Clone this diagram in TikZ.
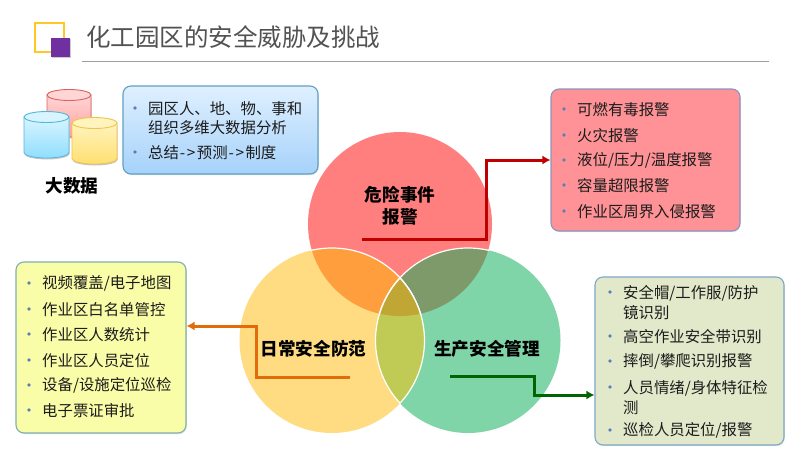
\documentclass[tikz,border=0pt]{standalone}
\usepackage{fontspec}
\setmainfont{Noto Sans CJK SC}
\usetikzlibrary{shadows,arrows.meta}
\definecolor{cRed}{HTML}{FF7F7F}
\definecolor{cYel}{HTML}{FFDC82}
\definecolor{cGrn}{HTML}{80D5A8}
\definecolor{cRY}{HTML}{FF9E3C}
\definecolor{cRG}{HTML}{7F9A6A}
\definecolor{cYG}{HTML}{C0CB55}
\definecolor{cAll}{HTML}{BFA635}
\definecolor{cBul}{HTML}{5B80B8}
\definecolor{cTxt}{HTML}{1C1C1C}
\definecolor{cPur}{HTML}{7030A0}
\definecolor{cGold}{HTML}{FFC826}
\definecolor{cBlueTop}{HTML}{DFF0FF}
\definecolor{cBlueBot}{HTML}{A6D2FA}
\tikzset{
  x=1pt,y=-1pt,
  panel/.style={draw,line width=1.1pt,rounded corners=8pt,inner sep=0pt,
     drop shadow={opacity=.22,shadow xshift=.8pt,shadow yshift=-1.2pt}},
  item/.style={anchor=west,inner sep=0pt,yshift=-.4pt,text=cTxt,font=\fontsize{15.4}{19.5}\selectfont,align=left},
  dotmark/.style={circle,fill=cBul,draw=none,inner sep=0pt,minimum size=3.6pt},
  biglabel/.style={inner sep=0pt,yshift=-.7pt,text=black,font=\fontsize{17.6}{22}\selectfont\bfseries,align=center},
  wire/.style={line width=3pt,-{Latex[length=8pt,width=9pt]}},
}
\begin{document}
\begin{tikzpicture}
\useasboundingbox[fill=white] (0,0) rectangle (800,450);
% header
\coordinate (ruleL) at (82,61);
\coordinate (ruleR) at (769,61);
\draw[color=black!38,line width=1pt] (ruleL) -- (ruleR);
\draw[color=cGold,line width=2pt] (34.5,22.5) rectangle (63.5,51.5);
\fill[color=black,opacity=.2] (52,39) rectangle (71,58);
\fill[cPur] (51,38) rectangle (70,57);
\node[anchor=west,inner sep=0pt,text=black!68,font=\fontsize{24.5}{28}\selectfont] (title) at (86,37) {化工园区的安全威胁及挑战};
% cylinders
\foreach \xl/\xr/\yt/\yb/\ca/\cb/\ce in {
  47/91/95/137/FFD6D6/FF9C9C/E06060,
  24/69/117/158/D8F5FF/90DEFF/55B5DC,
  72/117/123/164/FFF4BE/FFDF70/EFC548}{
  \definecolor{cyA}{HTML}{\ca}\definecolor{cyB}{HTML}{\cb}\definecolor{cyE}{HTML}{\ce}
  \pgfmathsetmacro{\rx}{(\xr-\xl)/2}
  \fill[black!22] (\xl+.5,\yt+2) -- (\xl+.5,\yb-4) arc[start angle=180,end angle=0,x radius=\rx,y radius=5.5] -- (\xr+.5,\yt+2) -- cycle;
  \path[top color=cyA,bottom color=cyB,draw=cyE,line width=.8pt] (\xl,\yt) -- (\xl,\yb-5.5) arc[start angle=180,end angle=0,x radius=\rx,y radius=5.5] -- (\xr,\yt) -- cycle;
  \path[fill=cyA,draw=cyE,line width=.9pt] (\xl+\rx,\yt) ellipse[x radius=\rx,y radius=5.5];
}
\node[biglabel] (bigdata) at (72,185) {大数据};
% venn
\fill[cRed] (400,224) circle[radius=92];
\fill[cYel] (332,340.5) circle[radius=92.5];
\fill[cGrn] (468,340.5) circle[radius=92.5];
\begin{scope}
 \clip (400,224) circle[radius=92];
 \fill[cRY] (332,340.5) circle[radius=92.5];
 \fill[cRG] (468,340.5) circle[radius=92.5];
\end{scope}
\begin{scope}
 \clip (332,340.5) circle[radius=92.5];
 \fill[cYG] (468,340.5) circle[radius=92.5];
 \clip (468,340.5) circle[radius=92.5];
 \fill[cAll] (400,224) circle[radius=92];
\end{scope}
\begin{scope}
 \clip (400,224) circle[radius=93];
 \draw[white,line width=1.2pt] (332,340.5) circle[radius=92.5];
 \draw[white,line width=1.2pt] (468,340.5) circle[radius=92.5];
\end{scope}
\begin{scope}
 \clip (332,340.5) circle[radius=92.5];
 \draw[white,line width=1.2pt] (468,340.5) circle[radius=92.5];
\end{scope}
\begin{scope}
 \clip (468,340.5) circle[radius=92.5];
 \draw[white,line width=1.2pt] (332,340.5) circle[radius=92.5];
\end{scope}
\node[biglabel] (danger) at (400,205) {危险事件\\报警};
\node[biglabel] (daily) at (313.5,348) {日常安全防范};
\node[biglabel] (prod) at (487,348) {生产安全管理};
% panels
\node[panel,draw={rgb,255:red,96;green,160;blue,196},top color=cBlueTop,bottom color=cBlueBot,minimum width=195pt,minimum height=88pt] (pBlue) at (220.5,130) {};
\node[panel,draw={rgb,255:red,140;green,148;blue,190},fill={rgb,255:red,255;green,146;blue,150},minimum width=189pt,minimum height=142pt] (pRed) at (645.5,160) {};
\node[panel,draw={rgb,255:red,127;green,168;blue,200},fill={rgb,255:red,226;green,233;blue,202},minimum width=189pt,minimum height=168pt] (pGrn) at (689.5,361) {};
\node[panel,draw={rgb,255:red,127;green,175;blue,176},fill={rgb,255:red,250;green,253;blue,167},minimum width=170pt,minimum height=171pt] (pYel) at (101,347.5) {};
% panel text: blue
\node[dotmark] (b1d) at (135,108) {};
\node[item] (b1) at (148,118) {园区人、地、物、事和\\组织多维大数据分析};
\node[dotmark] (b2d) at (135,152) {};
\node[item] (b2) at (148,152) {总结\kern1pt-\kern1.5pt>\kern1.5pt预测\kern1pt-\kern1.5pt>\kern1.5pt制度};
% red
\foreach \n/\y/\t in {r1/109/{可燃有毒报警},r2/135/{火灾报警},r3/160/{液位/压力/温度报警},r4/185/{容量超限报警},r5/211/{作业区周界入侵报警}}{
  \node[dotmark] (\n d) at (564,\y) {};
  \node[item] (\n) at (577,\y) {\t};
}
% yellow
\foreach \n/\y/\t in {y1/283/{视频覆盖/电子地图},y2/309/{作业区白名单管控},y3/334/{作业区人数统计},y4/360/{作业区人员定位},y5/385/{设备/设施定位巡检},y6/410/{电子票证审批}}{
  \node[dotmark] (\n d) at (29,\y) {};
  \node[item] (\n) at (42,\y) {\t};
}
% green
\node[dotmark] (g1d) at (610,292) {};
\node[item] (g1) at (623,302) {安全帽/工作服/防护\\镜识别};
\node[dotmark] (g2d) at (610,336) {};
\node[item] (g2) at (623,336) {高空作业安全带识别};
\node[dotmark] (g3d) at (610,361) {};
\node[item] (g3) at (623,361) {摔倒/攀爬识别报警};
\node[dotmark] (g4d) at (610,387) {};
\node[item] (g4) at (623,397) {人员情绪/身体特征检\\测};
\node[dotmark] (g5d) at (610,430) {};
\node[item] (g5) at (623,430) {巡检人员定位/报警};
% connectors
\coordinate (rs) at (362,239);
\coordinate (rt) at (486,160);
\draw[wire,color={rgb,255:red,192;green,0;blue,0}] (rs) -| (rt) -- (pRed.west);
\coordinate (ys) at (350,377);
\coordinate (yt) at (256,326);
\draw[wire,color={rgb,255:red,227;green,108;blue,10}] (ys) -| (yt) -- (yt -| pYel.east);
\coordinate (gs) at (450,376.5);
\coordinate (gt) at (534,395);
\draw[wire,color={rgb,255:red,0;green,100;blue,0}] (gs) -| (gt) -- (gt -| pGrn.west);
\end{tikzpicture}
\end{document}
